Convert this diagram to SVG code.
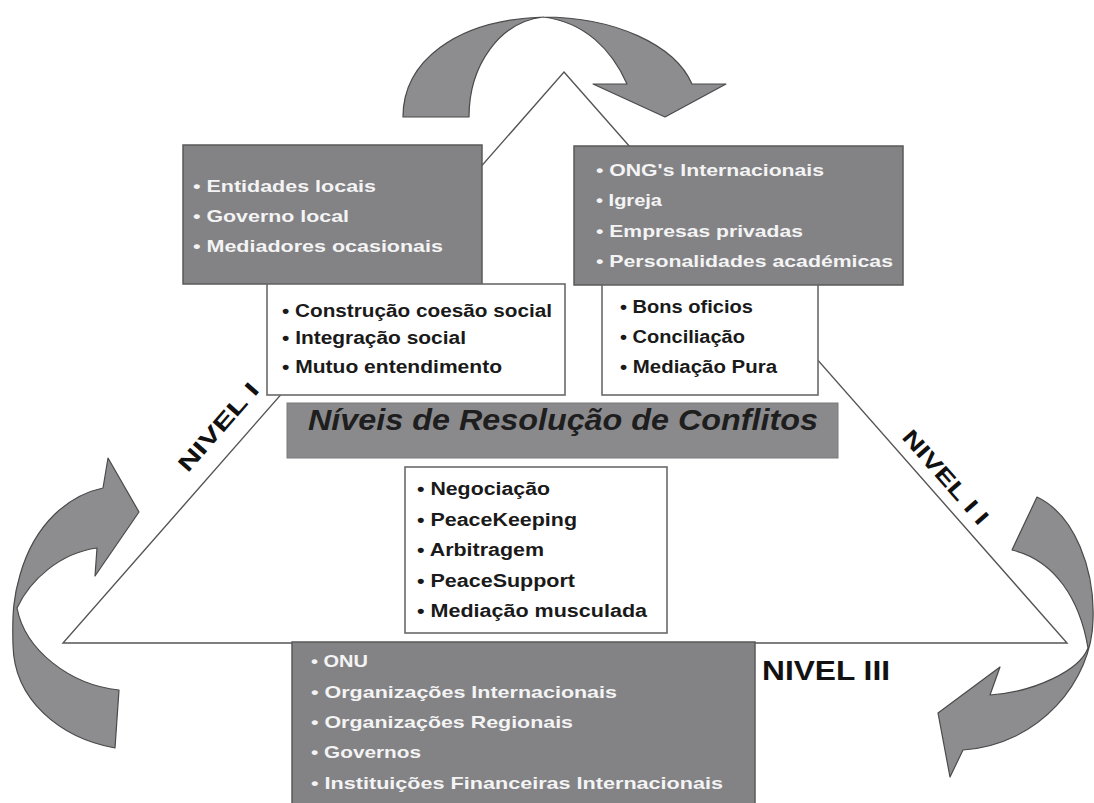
<svg xmlns="http://www.w3.org/2000/svg" width="1094" height="803" viewBox="0 0 1094 803">
<style>
.bg{fill:#ffffff}
.tri{fill:none;stroke:#555;stroke-width:1.4}
.arrow{fill:#8d8d90;stroke:#4a4a4a;stroke-width:1.2;stroke-linejoin:round}
.gbox{fill:#838386;stroke:#5a5a5a;stroke-width:1.5}
.wbox{fill:#ffffff;stroke:#6a6a6a;stroke-width:1.6}
.tbox{fill:#8a8a8d;stroke:#7a7a7a;stroke-width:1}
.wt{font-family:"Liberation Sans",Arial,sans-serif;font-weight:bold;font-size:17px;fill:#f4f4f4}
.bt{font-family:"Liberation Sans",Arial,sans-serif;font-weight:bold;font-size:18px;fill:#1a1a1a}
.title{font-family:"Liberation Sans",Arial,sans-serif;font-weight:bold;font-style:italic;font-size:30px;fill:#1e1e1e}
.lvl{font-family:"Liberation Sans",Arial,sans-serif;font-weight:bold;font-size:22px;fill:#111}
</style>
<rect class="bg" x="0" y="0" width="1094" height="803"/>
<g id="connectors">
  <polygon id="triangle" class="tri" points="564,72 1067,643 63,643"/>
  <path id="arrow-top" class="arrow" d="M403,117 C403,62 455,20 543,17 C615,17 675,45 692,84 L726,84 L665,117 L593,84 L627,84 C612,50 585,22 543,17 C500,22 469,65 469,117 Z"/>
  <path id="arrow-left" class="arrow" d="M115,748 C60,738 14,700 13,645 C12,612 14,595 20,575 C35,522 70,495 103,488 L108,458 L139,512 L95,576 L97,548 C60,553 30,580 17,608 C25,650 70,685 119,690 Z"/>
  <path id="arrow-right" class="arrow" d="M1037,497 C1075,515 1095,570 1093,620 C1092,680 1040,745 963,750 L950,777 L938,713 L1000,667 L990,695 C1035,692 1080,670 1088,648 C1080,600 1055,560 1012,550 Z"/>
</g>
<g id="box-local">
  <rect class="gbox" x="183" y="145" width="299" height="139"/>
  <text class="wt" x="193" y="192" textLength="183" lengthAdjust="spacingAndGlyphs">• Entidades locais</text>
  <text class="wt" x="193" y="222" textLength="156" lengthAdjust="spacingAndGlyphs">• Governo local</text>
  <text class="wt" x="193" y="252" textLength="250" lengthAdjust="spacingAndGlyphs">• Mediadores ocasionais</text>
</g>
<g id="box-intl">
  <rect class="gbox" x="574" y="146" width="329" height="139"/>
  <text class="wt" x="596" y="176" textLength="228" lengthAdjust="spacingAndGlyphs">• ONG's Internacionais</text>
  <text class="wt" x="596" y="206" textLength="66" lengthAdjust="spacingAndGlyphs">• Igreja</text>
  <text class="wt" x="596" y="237" textLength="207" lengthAdjust="spacingAndGlyphs">• Empresas privadas</text>
  <text class="wt" x="596" y="267" textLength="297" lengthAdjust="spacingAndGlyphs">• Personalidades académicas</text>
</g>
<g id="box-social">
  <rect class="wbox" x="267" y="284" width="298" height="111"/>
  <text class="bt" x="282" y="317" textLength="270" lengthAdjust="spacingAndGlyphs">• Construção coesão social</text>
  <text class="bt" x="282" y="344" textLength="184" lengthAdjust="spacingAndGlyphs">• Integração social</text>
  <text class="bt" x="282" y="373" textLength="220" lengthAdjust="spacingAndGlyphs">• Mutuo entendimento</text>
</g>
<g id="box-mediation">
  <rect class="wbox" x="602" y="285" width="216" height="110"/>
  <text class="bt" x="620" y="313" textLength="133" lengthAdjust="spacingAndGlyphs">• Bons oficios</text>
  <text class="bt" x="620" y="343" textLength="125" lengthAdjust="spacingAndGlyphs">• Conciliação</text>
  <text class="bt" x="620" y="373" textLength="157" lengthAdjust="spacingAndGlyphs">• Mediação Pura</text>
</g>
<g id="title">
  <rect class="tbox" x="287" y="403" width="551" height="55"/>
  <text class="title" x="308" y="430" textLength="510" lengthAdjust="spacingAndGlyphs">Níveis de Resolução de Conflitos</text>
</g>
<g id="box-methods">
  <rect class="wbox" x="405" y="467" width="262" height="166"/>
  <text class="bt" x="417" y="495" textLength="133" lengthAdjust="spacingAndGlyphs">• Negociação</text>
  <text class="bt" x="417" y="526" textLength="160" lengthAdjust="spacingAndGlyphs">• PeaceKeeping</text>
  <text class="bt" x="417" y="556" textLength="127" lengthAdjust="spacingAndGlyphs">• Arbitragem</text>
  <text class="bt" x="417" y="587" textLength="158" lengthAdjust="spacingAndGlyphs">• PeaceSupport</text>
  <text class="bt" x="417" y="617" textLength="230" lengthAdjust="spacingAndGlyphs">• Mediação musculada</text>
</g>
<g id="box-global">
  <rect class="gbox" x="292" y="642" width="463" height="170"/>
  <text class="wt" x="311" y="667" textLength="57" lengthAdjust="spacingAndGlyphs">• ONU</text>
  <text class="wt" x="311" y="698" textLength="306" lengthAdjust="spacingAndGlyphs">• Organizações Internacionais</text>
  <text class="wt" x="311" y="728" textLength="262" lengthAdjust="spacingAndGlyphs">• Organizações Regionais</text>
  <text class="wt" x="311" y="758" textLength="110" lengthAdjust="spacingAndGlyphs">• Governos</text>
  <text class="wt" x="311" y="789" textLength="412" lengthAdjust="spacingAndGlyphs">• Instituições Financeiras Internacionais</text>
</g>
<g id="labels">
  <text class="lvl" transform="translate(224,432) rotate(-48.7)" text-anchor="middle" textLength="110" lengthAdjust="spacingAndGlyphs">NIVEL I</text>
  <text class="lvl" transform="translate(940,482) rotate(48.7)" text-anchor="middle" textLength="118" lengthAdjust="spacingAndGlyphs">NIVEL I I</text>
  <text class="lvl" x="762" y="680" style="font-size:27px" textLength="128" lengthAdjust="spacingAndGlyphs">NIVEL III</text>
</g>
</svg>
